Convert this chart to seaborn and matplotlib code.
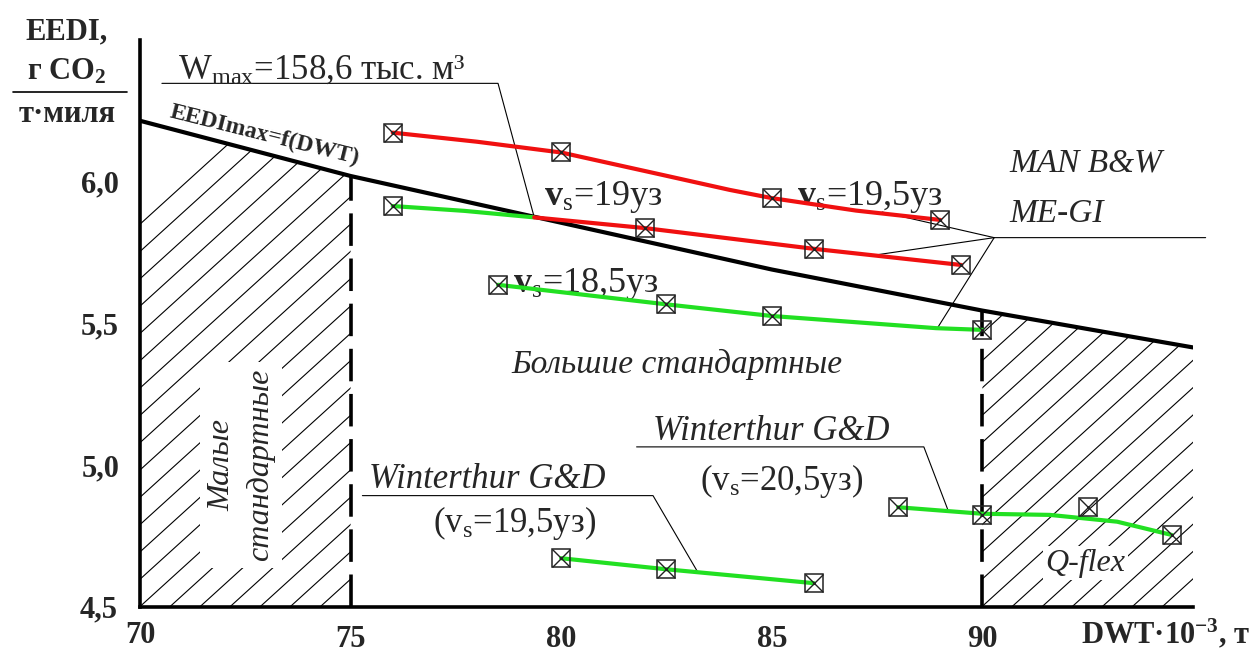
import numpy as np
import matplotlib
matplotlib.use("Agg")
import matplotlib.pyplot as plt
import seaborn as sns
from matplotlib.patches import Polygon

# EEDImax = f(DWT) reference line
eedi_x = [70, 75, 80, 85, 90, 95]
eedi_y = [6.215, 6.02, 5.855, 5.69, 5.545, 5.415]

# MAN B&W ME-GI, v=19.5
v195_mx = [76, 80, 85, 89]
v195_my = [6.173, 6.103, 5.942, 5.865]
v195_lx = [76, 78, 80, 82.4, 84, 85, 87, 89]
v195_ly = [6.173, 6.141, 6.103, 6.024, 5.971, 5.942, 5.898, 5.865]

# MAN B&W ME-GI, v=19 (green below limit, red above)
v19_mx = [76, 82, 86, 89.5]
v19_my = [5.914, 5.836, 5.763, 5.706]
v19_green_x = [76, 77.7, 79.36]
v19_green_y = [5.914, 5.897, 5.874]
v19_red_x = [79.36, 82, 86, 89.5]
v19_red_y = [5.874, 5.836, 5.763, 5.706]

# MAN B&W ME-GI, v=18.5
v185_mx = [78.5, 82.5, 85, 90]
v185_my = [5.636, 5.567, 5.526, 5.477]
v185_lx = [78.5, 82.5, 85, 88.9, 90]
v185_ly = [5.636, 5.567, 5.526, 5.483, 5.477]

# Winterthur G&D, v=19.5
w195_x = [80, 82.5, 86]
w195_y = [4.671, 4.632, 4.583]

# Winterthur G&D, v=20.5
w205_mx = [88, 90, 92.5, 94.5]
w205_my = [4.851, 4.824, 4.851, 4.753]
w205_lx = [88, 90, 91.6, 93.2, 94.5]
w205_ly = [4.851, 4.828, 4.824, 4.80, 4.753]

x_ticks = [75, 80, 85, 90]
y_ticks = [5.0, 5.5, 6.0]
y_ticklabels = ["5,0", "5,5", "6,0"]

RED = "#f01010"
GREEN = "#22e022"

sns.set_style("white")
plt.rcParams["font.family"] = ["Liberation Serif", "DejaVu Serif"]
plt.rcParams["mathtext.fontset"] = "custom"
plt.rcParams["mathtext.rm"] = "Liberation Serif"
plt.rcParams["mathtext.it"] = "Liberation Serif:italic"
plt.rcParams["mathtext.bf"] = "Liberation Serif:bold"

W, H = 1252, 653
fig = plt.figure(figsize=(W / 100, H / 100), dpi=100)
ax = fig.add_axes([140 / W, (H - 606.7) / H, 1053 / W, 566.7 / H])
ax.set_xlim(70, 95)
ax.set_ylim(4.5, 6.5)

# hatched zones (left: small standard, right: Q-flex)
def hatch_zone(x0, x1):
    i0, i1 = eedi_x.index(x0), eedi_x.index(x1)
    pts = [(x0, 4.5)] + list(zip(eedi_x[i0:i1 + 1], eedi_y[i0:i1 + 1])) + [(x1, 4.5)]
    poly = Polygon(pts, closed=True, fc="none", ec="none")
    ax.add_patch(poly)
    slope = 0.135
    for s in np.arange(60, 100, 0.714):
        xs = np.array([s, s + 15])
        ln, = ax.plot(xs, 4.5 + slope * (xs - s), color="black", lw=0.8, zorder=1)
        ln.set_clip_path(poly)

hatch_zone(70, 75)
hatch_zone(90, 95)

# dashed zone borders
for xv in (75, 90):
    ax.plot([xv, xv], [4.5, eedi_y[eedi_x.index(xv)]], color="black", lw=2.6,
            dashes=(9, 3.5), zorder=2)

sns.lineplot(x=eedi_x, y=eedi_y, color="black", lw=3, ax=ax, zorder=3)
sns.lineplot(x=v195_lx, y=v195_ly, color=RED, lw=3, ax=ax, zorder=4)
sns.lineplot(x=v19_green_x, y=v19_green_y, color=GREEN, lw=3, ax=ax, zorder=4)
sns.lineplot(x=v19_red_x, y=v19_red_y, color=RED, lw=3, ax=ax, zorder=4)
sns.lineplot(x=v185_lx, y=v185_ly, color=GREEN, lw=3, ax=ax, zorder=4)
sns.lineplot(x=w195_x, y=w195_y, color=GREEN, lw=3, ax=ax, zorder=4)
sns.lineplot(x=w205_lx, y=w205_ly, color=GREEN, lw=3, ax=ax, zorder=4)

for mx, my in [(v195_mx, v195_my), (v19_mx, v19_my), (v185_mx, v185_my),
               (w195_x, w195_y), (w205_mx, w205_my)]:
    ax.plot(mx, my, ls="none", marker="s", ms=13, mfc="none", mec="#222222", mew=1.1, zorder=5)
    ax.plot(mx, my, ls="none", marker="x", ms=13, mec="#222222", mew=1.0, zorder=5)

# leader lines
lk = dict(color="black", lw=0.8, zorder=3)
ax.plot([70.52, 78.5, 79.36], [6.347, 6.347, 5.874], **lk)
ax.plot([95.3, 90.28, 87.62], [5.8025, 5.8025, 5.893], clip_on=False, **lk)
ax.plot([90.28, 87.45], [5.8025, 5.741], **lk)
ax.plot([90.28, 88.93], [5.8025, 5.483], **lk)
ax.plot([75.28, 82.18, 83.25], [4.892, 4.892, 4.62], **lk)
ax.plot([81.79, 88.61, 89.19], [5.064, 5.064, 4.838], **lk)

# texts
ax.text(70.9, 6.365, "W$_{\\mathrm{max}}$=158,6 тыс. м³", fontsize=25, ha="left", va="baseline")
ax.text(72.95, 6.165, "EEDImax=f(DWT)", fontsize=17, fontweight="bold", rotation=-14,
        ha="center", va="center", rotation_mode="anchor")
ax.text(79.6, 5.918, "$\\mathbf{v}_{\\mathrm{s}}$=19уз", fontsize=26, ha="left", va="baseline")
ax.text(85.6, 5.918, "$\\mathbf{v}_{\\mathrm{s}}$=19,5уз", fontsize=26, ha="left", va="baseline")
ax.text(78.85, 5.612, "$\\mathbf{v}_{\\mathrm{s}}$=18,5уз", fontsize=26, ha="left", va="baseline")
ax.text(90.64, 6.035, "MAN B&W", fontsize=24, style="italic", ha="left", va="baseline")
ax.text(90.64, 5.859, "ME-GI", fontsize=24, style="italic", ha="left", va="baseline")
ax.text(82.74, 5.325, "Большие стандартные", fontsize=24, style="italic", ha="center", va="baseline")
ax.text(75.43, 4.919, "Winterthur G&D", fontsize=25, style="italic", ha="left", va="baseline")
ax.text(78.9, 4.764, "(v$_{\\mathrm{s}}$=19,5уз)", fontsize=25, ha="center", va="baseline")
ax.text(82.18, 5.088, "Winterthur G&D", fontsize=25, style="italic", ha="left", va="baseline")
ax.text(85.24, 4.912, "(v$_{\\mathrm{s}}$=20,5уз)", fontsize=25, ha="center", va="baseline")
ax.text(92.45, 4.654, "Q-flex", fontsize=23, style="italic", ha="center", va="center", zorder=6,
        bbox=dict(fc="white", ec="none", pad=2))
ax.text(72.4, 5.0, "Малые\nстандартные", fontsize=23, style="italic", rotation=90,
        ha="center", va="center", multialignment="center", linespacing=1.45, zorder=6,
        bbox=dict(fc="white", ec="none", pad=5))

# axes styling
for side in ("top", "right"):
    ax.spines[side].set_visible(False)
for side in ("left", "bottom"):
    ax.spines[side].set_linewidth(2.6)
    ax.spines[side].set_color("black")
    ax.spines[side].set_zorder(7)
ax.set_xticks(x_ticks)
ax.set_xticklabels([str(t) for t in x_ticks])
ax.set_yticks(y_ticks)
ax.set_yticklabels(y_ticklabels)
ax.set_xticks([70], minor=True)
ax.set_xticklabels(["70"], minor=True)
ax.set_yticks([4.5], minor=True)
ax.set_yticklabels(["4,5"], minor=True)
ax.tick_params(which="major", direction="inout", length=22, width=2.4, color="black",
               labelsize=22, pad=4)
ax.tick_params(axis="x", which="major", pad=2)
ax.tick_params(which="minor", length=0, labelsize=22)
ax.tick_params(axis="x", which="minor", pad=10)
ax.tick_params(axis="y", which="minor", pad=16)
for lab in ax.get_xticklabels(which="both") + ax.get_yticklabels(which="both"):
    lab.set_fontweight("bold")

# axis titles
fig.text(67 / W, 1 - 32 / H, "EEDI,", fontsize=22, fontweight="bold", ha="center", va="center")
fig.text(67 / W, 1 - 72 / H, "г CO$_{\\mathbf{2}}$", fontsize=22, fontweight="bold", ha="center", va="center")
fig.add_artist(plt.Line2D([13 / W, 127 / W], [1 - 92 / H, 1 - 92 / H], color="black", lw=1.2))
fig.text(67 / W, 1 - 114 / H, "т·миля", fontsize=22, fontweight="bold", ha="center", va="center")
fig.text(1250 / W, 1 - 643 / H, "DWT·10$^{\\mathbf{-3}}$, т", fontsize=22, fontweight="bold",
         ha="right", va="baseline")

fig.savefig("out.png", dpi=100, facecolor="white")
